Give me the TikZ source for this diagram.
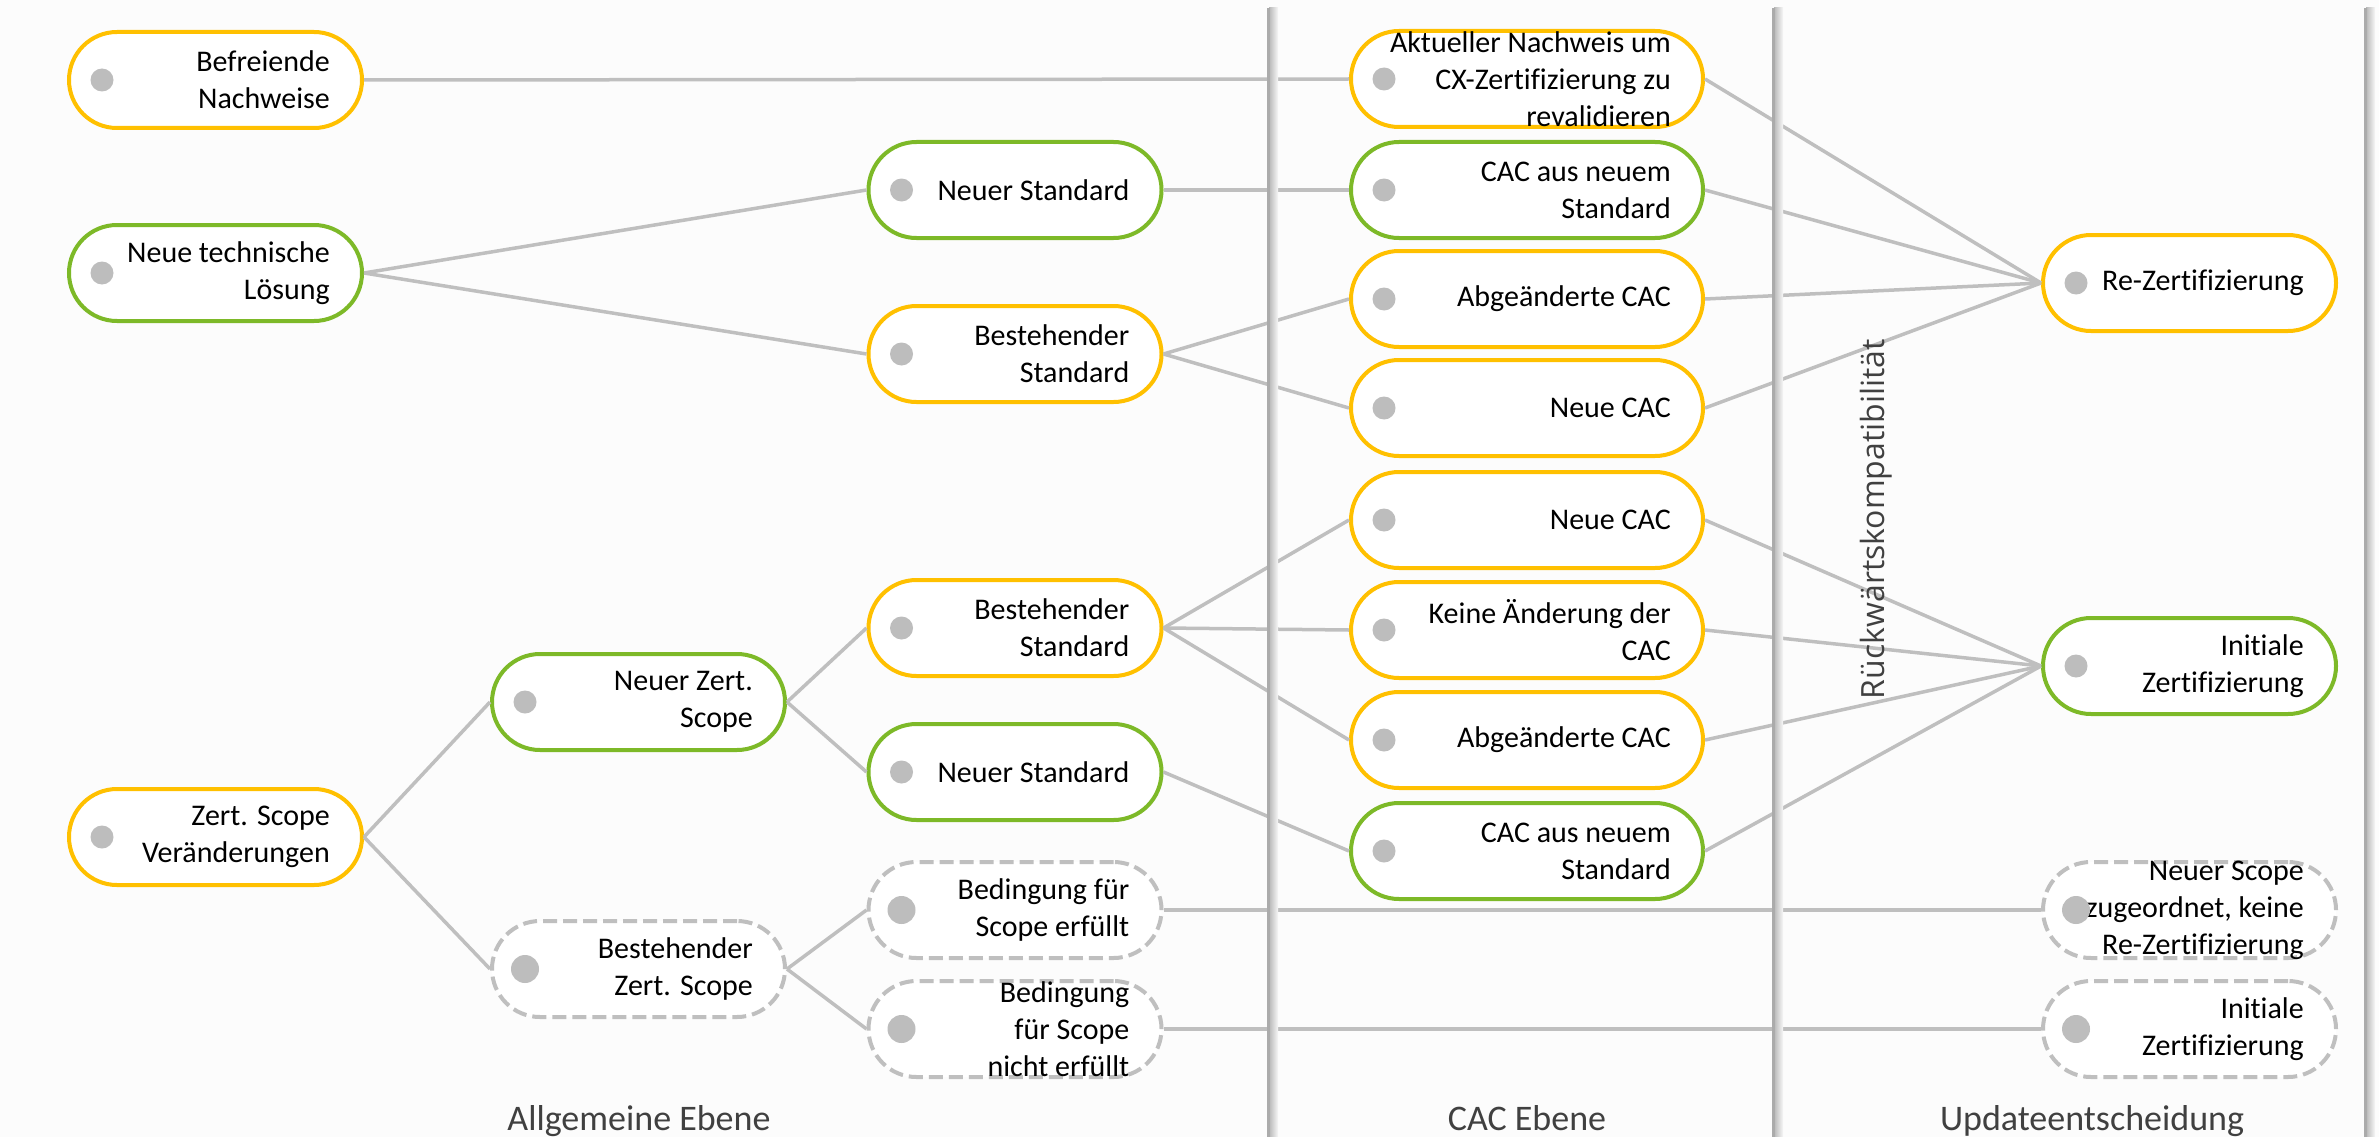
\documentclass[tikz,border=0pt]{standalone}
\usepackage{fontspec}
\setmainfont{Carlito}[Ligatures={NoCommon}]
\newfontfamily\rotfont{Open Sans}
\definecolor{cy}{HTML}{FFC000}
\definecolor{cg}{HTML}{7DB928}
\definecolor{cl}{HTML}{BFBFBF}
\definecolor{cdot}{HTML}{BDBDBD}
\definecolor{csep}{HTML}{ABABAB}
\definecolor{ctitle}{HTML}{404040}
\newcommand\nfont{\fontsize{30}{37}\selectfont}
\newcommand\tfont{\fontsize{36}{43}\selectfont}
\begin{document}
\begin{tikzpicture}[x=1pt,y=-1pt,
  box/.style={draw, rounded corners=48pt, minimum height=96pt, inner sep=0pt, line width=4pt, fill=white},
  ybox/.style={box, draw=cy},
  gbox/.style={box, draw=cg},
  dbox/.style={box, draw=cl, dash pattern=on 14pt off 6pt},
  wa/.style={minimum width=293pt},
  wd/.style={minimum width=352pt},
  lbl/.style={anchor=east, xshift=-34pt, align=right, font=\nfont, inner sep=0pt, text=black},
  conn/.style={draw=cl, line width=3.5pt},
  title/.style={font=\tfont, text=ctitle, anchor=base, inner sep=0pt},
]
\fill[white!98.8!black] (0,0) rectangle (2379,1137);
\useasboundingbox (0,0) rectangle (2379,1137);

% column A
\node[ybox, wa, label={[lbl]east:{Befreiende\\Nachweise}}] (a1) at (215.5,80) {};
\node[gbox, wa, label={[lbl]east:{Neue technische\\Lösung}}] (a2) at (215.5,273) {};
\node[ybox, wa, label={[lbl]east:{Zert. Scope\\Veränderungen}}] (a3) at (215.5,837) {};
% column B
\node[gbox, wa, label={[lbl]east:{Neuer Zert.\\Scope}}] (b1) at (638.5,702) {};
\node[dbox, wa, label={[lbl]east:{Bestehender\\Zert. Scope}}] (b2) at (638.5,969) {};
% column C
\node[gbox, wa, label={[lbl]east:{Neuer Standard}}] (c1) at (1015,190) {};
\node[ybox, wa, label={[lbl]east:{Bestehender\\Standard}}] (c2) at (1015,354) {};
\node[ybox, wa, label={[lbl]east:{Bestehender\\Standard}}] (c3) at (1015,628) {};
\node[gbox, wa, label={[lbl]east:{Neuer Standard}}] (c4) at (1015,772) {};
\node[dbox, wa, label={[lbl]east:{Bedingung für\\Scope erfüllt}}] (c5) at (1015,910) {};
\node[dbox, wa, label={[lbl]east:{Bedingung\\für Scope\\nicht erfüllt}}] (c6) at (1015,1029) {};
% column D
\node[ybox, wd, label={[lbl]east:{Aktueller Nachweis um\\CX-Zertifizierung zu\\revalidieren}}] (d1) at (1527,79) {};
\node[gbox, wd, label={[lbl]east:{CAC aus neuem\\Standard}}] (d2) at (1527,190) {};
\node[ybox, wd, label={[lbl]east:{Abgeänderte CAC}}] (d3) at (1527,299) {};
\node[ybox, wd, label={[lbl]east:{Neue CAC}}] (d4) at (1527,408) {};
\node[ybox, wd, label={[lbl]east:{Neue CAC}}] (d5) at (1527,520) {};
\node[ybox, wd, label={[lbl]east:{Keine Änderung der\\CAC}}] (d6) at (1527,630) {};
\node[ybox, wd, label={[lbl]east:{Abgeänderte CAC}}] (d7) at (1527,740) {};
\node[gbox, wd, label={[lbl]east:{CAC aus neuem\\Standard}}] (d8) at (1527,851) {};
% column E
\node[ybox, wa, label={[lbl]east:{Re-Zertifizierung}}] (e1) at (2189.5,283) {};
\node[gbox, wa, label={[lbl]east:{Initiale\\Zertifizierung}}] (e2) at (2189.5,666) {};
\node[dbox, wa, label={[lbl]east:{Neuer Scope\\zugeordnet, keine\\Re-Zertifizierung}}] (e3) at (2189.5,910) {};
\node[dbox, wa, label={[lbl]east:{Initiale\\Zertifizierung}}] (e4) at (2189.5,1029) {};

% connectors
\draw[conn] (a1.east) -- (d1.west);
\draw[conn] (a2.east) -- (c1.west);
\draw[conn] (a2.east) -- (c2.west);
\draw[conn] (c1.east) -- (d2.west);
\draw[conn] (c2.east) -- (d3.west);
\draw[conn] (c2.east) -- (d4.west);
\draw[conn] (a3.east) -- (b1.west);
\draw[conn] (a3.east) -- (b2.west);
\draw[conn] (b1.east) -- (c3.west);
\draw[conn] (b1.east) -- (c4.west);
\draw[conn] (c3.east) -- (d5.west);
\draw[conn] (c3.east) -- (d6.west);
\draw[conn] (c3.east) -- (d7.west);
\draw[conn] (c4.east) -- (d8.west);
\draw[conn] (b2.east) -- (c5.west);
\draw[conn] (b2.east) -- (c6.west);
\draw[conn] (c5.east) -- (e3.west);
\draw[conn] (c6.east) -- (e4.west);
\draw[conn] (d1.east) -- (e1.west);
\draw[conn] (d2.east) -- (e1.west);
\draw[conn] (d3.east) -- (e1.west);
\draw[conn] (d4.east) -- (e1.west);
\draw[conn] (d5.east) -- (e2.west);
\draw[conn] (d6.east) -- (e2.west);
\draw[conn] (d7.east) -- (e2.west);
\draw[conn] (d8.east) -- (e2.west);

% dots
\foreach \n in {a1,a2,a3,b1,c1,c2,c3,c4,d1,d2,d3,d4,d5,d6,d7,d8,e1,e2}
  \fill[cdot] ([xshift=35pt]\n.west) circle (11.5pt);
\foreach \n in {b2,c5,c6,e3,e4}
  \fill[cdot] ([xshift=35pt]\n.west) circle (14pt);

% separators with shadow
\foreach \x in {1268,1773,2365} {
  \shade[left color=black!28, right color=black!3] (\x+1,8) rectangle (\x+10,1137);
  \draw[line width=3pt, csep] (\x,8) -- (\x,1137);
}

% titles
\node[title] (t1) at (639,1130) {Allgemeine Ebene};
\node[title] (t2) at (1527,1130) {CAC Ebene};
\node[title] (t3) at (2092,1130) {Updateentscheidung};
\node[rotate=90, anchor=base, inner sep=0pt, text=ctitle, font=\rotfont\fontsize{32}{38}\selectfont] (rk) at (1884,519) {Rückwärtskompatibilität};
\end{tikzpicture}
\end{document}
